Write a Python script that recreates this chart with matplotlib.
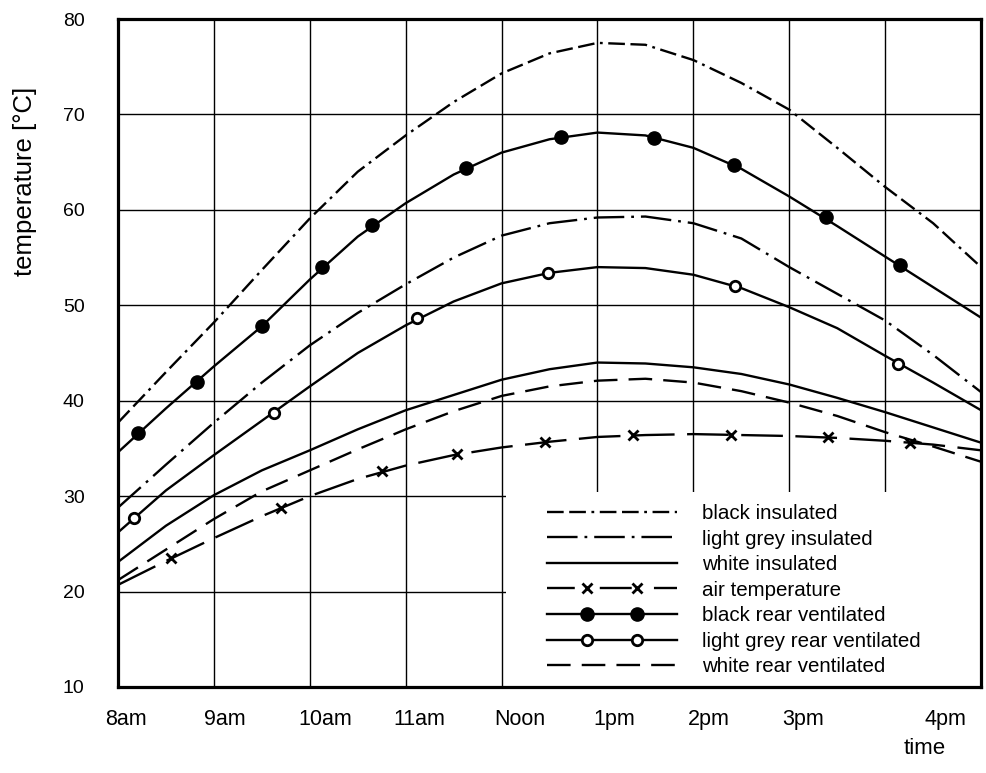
import matplotlib
matplotlib.use("Agg")
import matplotlib.pyplot as plt
from matplotlib.lines import Line2D
from matplotlib.patches import Rectangle
from matplotlib.legend_handler import HandlerLine2D, HandlerTuple

plt.rcParams['font.family'] = ['Liberation Sans', 'DejaVu Sans']
plt.rcParams['lines.scale_dashes'] = False

# x positions are in grid units (0 = left edge, 9 = right edge of the grid)
x = [0, 0.5, 1, 1.5, 2, 2.5, 3, 3.5, 4, 4.5, 5, 5.5, 6, 6.5, 7, 7.5, 8, 8.5, 9]

black_ins = [37.7, 43.0, 48.2, 53.7, 59.1, 64.0, 67.8, 71.3, 74.3, 76.4, 77.5,
             77.3, 75.7, 73.3, 70.5, 66.5, 62.4, 58.6, 54.0]
grey_ins = [28.8, 33.3, 37.7, 41.9, 45.8, 49.2, 52.2, 55.0, 57.3, 58.6, 59.2,
            59.3, 58.6, 57.0, 54.0, 51.2, 48.4, 44.8, 40.9]
white_ins = [23.1, 26.9, 30.1, 32.7, 34.8, 37.0, 39.0, 40.6, 42.2, 43.3, 44.0,
             43.9, 43.5, 42.8, 41.7, 40.3, 38.8, 37.2, 35.6]
air_temp = [20.7, 23.2, 25.6, 27.9, 30.0, 31.8, 33.2, 34.3, 35.1, 35.7, 36.2,
            36.4, 36.5, 36.4, 36.3, 36.1, 35.8, 35.4, 34.8]
black_vent = [34.6, 39.2, 43.6, 47.8, 52.7, 57.2, 60.7, 63.7, 66.0, 67.4, 68.1,
              67.8, 66.5, 64.3, 61.4, 58.3, 55.1, 51.9, 48.7]
grey_vent = [26.2, 30.6, 34.3, 37.9, 41.5, 45.0, 47.9, 50.4, 52.3, 53.4, 54.0,
             53.9, 53.2, 51.8, 49.8, 47.6, 44.7, 41.9, 39.0]
white_vent = [21.2, 24.4, 27.6, 30.5, 32.7, 34.9, 37.0, 38.9, 40.5, 41.5, 42.1,
              42.3, 41.9, 41.0, 39.8, 38.4, 36.7, 35.2, 33.6]

# marker positions
air_mx = [0.55, 1.70, 2.75, 3.54, 4.45, 5.37, 6.39, 7.40, 8.26]
air_my = [23.5, 28.8, 32.6, 34.4, 35.7, 36.4, 36.4, 36.2, 35.6]
bv_mx = [0.21, 0.82, 1.50, 2.13, 2.65, 3.63, 4.62, 5.59, 6.42, 7.38, 8.15]
bv_my = [36.6, 42.0, 47.8, 54.0, 58.4, 64.4, 67.6, 67.5, 64.7, 59.2, 54.2]
gv_mx = [0.17, 1.63, 3.12, 4.48, 6.43, 8.13]
gv_my = [27.7, 38.7, 48.7, 53.4, 52.0, 43.8]

tick_pos = [0.08, 1.11, 2.16, 3.14, 4.19, 5.17, 6.16, 7.14, 8.63]
tick_labels = ['8am', '9am', '10am', '11am', 'Noon', '1pm', '2pm', '3pm', '4pm']
labels = ['black insulated', 'light grey insulated', 'white insulated',
          'air temperature', 'black rear ventilated', 'light grey rear ventilated',
          'white rear ventilated']

fig = plt.figure(figsize=(9.86, 7.73), dpi=100)
ax = fig.add_axes([0.1197, 0.1113, 0.8753, 0.8641])
ax.set_axisbelow(True)

lw = 1.7
bi_dash = (0, (12, 4, 12, 4, 2, 4))
gi_dash = (0, (22, 5, 2, 5))
air_dash = (0, (30, 9))
wv_dash = (0, (17, 8))

ax.plot(x, black_ins, color='black', lw=lw, ls=bi_dash)
ax.plot(x, grey_ins, color='black', lw=lw, ls=gi_dash)
ax.plot(x, white_ins, color='black', lw=lw)
ax.plot(x, air_temp, color='black', lw=lw, ls=air_dash)
ax.plot(x, black_vent, color='black', lw=lw)
ax.plot(x, grey_vent, color='black', lw=lw)
ax.plot(x, white_vent, color='black', lw=lw, ls=wv_dash)

ax.plot(air_mx, air_my, ls='none', marker='x', ms=7, mew=2, color='black')
ax.plot(bv_mx, bv_my, ls='none', marker='o', ms=9.5, color='black')
ax.plot(gv_mx, gv_my, ls='none', marker='o', ms=7.5, mew=2,
        mfc='white', mec='black')

ax.set_xlim(0, 9)
ax.set_ylim(10, 80)
ax.set_xticks(range(1, 9), minor=True)
ax.set_xticks(tick_pos)
ax.set_xticklabels(tick_labels, fontsize=15.5)
ax.set_yticks(range(10, 81, 10))
ax.tick_params(axis='y', length=0, pad=24, labelsize=14)
ax.tick_params(axis='x', which='both', length=0, pad=16)
ax.grid(False)
ax.grid(True, axis='x', which='minor', color='black', lw=1.0)
for yv in range(20, 80, 10):
    ax.axhline(yv, color='black', lw=1.0, zorder=0.5)
for s in ax.spines.values():
    s.set_linewidth(2.3)

# white panel behind the legend hides the grid there
ax.add_patch(Rectangle((0.4496, 0), 0.5504, 0.292, transform=ax.transAxes,
                       facecolor='white', edgecolor='none', zorder=1))

ax.set_ylabel('temperature [°C]', fontsize=18.5)
ax.yaxis.set_label_coords(-0.094, 0.757)
fig.text(0.938, 0.032, 'time', fontsize=16, ha='center', va='center')

def seg(**kw):
    return Line2D([], [], color='black', lw=lw, **kw)

def dots(**kw):
    return Line2D([], [], color='black', ls='none', **kw)

handles = [
    seg(ls=bi_dash),
    seg(ls=gi_dash),
    seg(),
    (seg(ls=(0, (20, 18, 23, 16, 20, 10))), dots(marker='x', ms=6.5, mew=2)),
    (seg(), dots(marker='o', ms=9.5)),
    (seg(), dots(marker='o', ms=7.5, mew=2, mfc='white', mec='black')),
    seg(ls=wv_dash),
]
hmap = {tuple: HandlerTuple(ndivide=1)}
for h in handles:
    if isinstance(h, tuple):
        hmap[h[0]] = HandlerLine2D(numpoints=2, marker_pad=0)
        hmap[h[1]] = HandlerLine2D(numpoints=2, marker_pad=1.95)
    else:
        hmap[h] = HandlerLine2D(numpoints=2, marker_pad=0)

leg = ax.legend(handles, labels, loc='upper left', bbox_to_anchor=(0.497, 0.274),
                fontsize=14.8, handlelength=6.32, handletextpad=1.22,
                labelspacing=0.32, borderpad=0, borderaxespad=0,
                frameon=False, handler_map=hmap)

fig.savefig('out.png', dpi=100)
